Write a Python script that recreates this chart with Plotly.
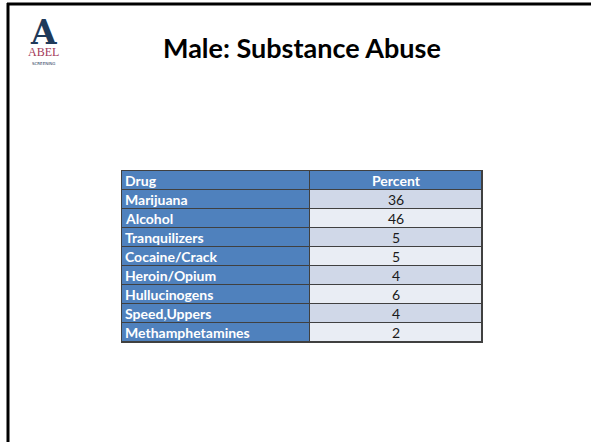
import plotly.graph_objects as go

W, H = 591, 442

title = "Male: Substance Abuse"
header = ["Drug", "Percent"]
drugs = ["Marijuana", "Alcohol", "Tranquilizers", "Cocaine/Crack", "Heroin/Opium",
         "Hullucinogens", "Speed,Uppers", "Methamphetamines"]
percents = [36, 46, 5, 5, 4, 6, 4, 2]

blue = "#4F81BD"
band1 = "#D0D8E8"
band2 = "#E9EDF4"
FONT = "Lato, Open Sans, sans-serif"

# table geometry (pixels in the page)
tx0, tx1 = 122, 482
ty0, ty1 = 171, 342
col_edges = [0, 188, 360]           # column widths 188 / 172
n_rows = len(drugs) + 1
row_edges = list(range(n_rows + 1))


def px(xp):
    """page pixel x -> paper x (paper = plot area)"""
    return (xp - tx0) / (tx1 - tx0)


def py(yp):
    """page pixel y -> paper y"""
    return (ty1 - yp) / (ty1 - ty0)


# colour class per cell: 0 = blue, 1 = dark band, 2 = light band
z = [[0, 0]] + [[0, 1 if i % 2 == 0 else 2] for i in range(len(drugs))]

fig = go.Figure(go.Heatmap(
    x=col_edges, y=row_edges, z=z,
    zmin=0, zmax=2,
    colorscale=[[0, blue], [0.333, blue], [0.333, band1], [0.667, band1],
                [0.667, band2], [1, band2]],
    showscale=False, xgap=1, ygap=1, hoverinfo="skip",
))

c_left = 1
c_mid = (col_edges[1] + col_edges[2]) / 2
FS = 14

# header text
fig.add_annotation(x=c_left, y=0.5, text=f"<b>{header[0]}</b>", showarrow=False,
                   xanchor="left", yanchor="middle",
                   font=dict(family=FONT, size=FS, color="white"))
fig.add_annotation(x=c_mid, y=0.5, text=f"<b>{header[1]}</b>", showarrow=False,
                   xanchor="center", yanchor="middle",
                   font=dict(family=FONT, size=FS, color="white"))
# body text
for i, (d, p) in enumerate(zip(drugs, percents)):
    fig.add_annotation(x=c_left, y=i + 1.5, text=f"<b>{d}</b>", showarrow=False,
                       xanchor="left", yanchor="middle",
                       font=dict(family=FONT, size=FS, color="white"))
    fig.add_annotation(x=c_mid, y=i + 1.5, text=str(p), showarrow=False,
                       xanchor="center", yanchor="middle",
                       font=dict(family=FONT, size=FS, color="#1a1a1a"))

# slide border
fig.add_shape(type="line", xref="paper", yref="paper",
              x0=px(7), x1=px(620), y0=py(4), y1=py(4),
              line=dict(color="black", width=3))
fig.add_shape(type="line", xref="paper", yref="paper",
              x0=px(8), x1=px(8), y0=py(3), y1=py(470),
              line=dict(color="black", width=3))

# title
fig.add_annotation(text=f"<b>{title}</b>", xref="paper", yref="paper",
                   x=px(302), y=py(47), showarrow=False,
                   xanchor="center", yanchor="middle",
                   font=dict(family=FONT, size=27, color="black"))

# logo
fig.add_annotation(text="<b>A</b>", xref="paper", yref="paper",
                   x=px(43), y=py(32), showarrow=False,
                   xanchor="center", yanchor="middle",
                   font=dict(family="DejaVu Serif, serif", size=33, color="#1f3a5a"))
fig.add_annotation(text="ABEL", xref="paper", yref="paper",
                   x=px(43), y=py(52), showarrow=False,
                   xanchor="center", yanchor="middle",
                   font=dict(family="Liberation Serif, serif", size=12, color="#a33a5a"))
fig.add_annotation(text="SCREENING", xref="paper", yref="paper",
                   x=px(43), y=py(63), showarrow=False,
                   xanchor="center", yanchor="middle",
                   font=dict(family="DejaVu Sans, sans-serif", size=4, color="#1f3a5a"))

fig.update_xaxes(range=[col_edges[0], col_edges[-1]], showgrid=False, zeroline=False,
                 showticklabels=False, ticks="", showline=True, mirror=True,
                 linecolor="#404040", linewidth=1, fixedrange=True)
fig.update_yaxes(range=[n_rows, 0], showgrid=False, zeroline=False,
                 showticklabels=False, ticks="", showline=True, mirror=True,
                 linecolor="#404040", linewidth=1, fixedrange=True)

fig.update_layout(
    width=W, height=H,
    margin=dict(l=tx0, r=W - tx1, t=ty0, b=H - ty1, pad=0),
    paper_bgcolor="white",
    plot_bgcolor="#404040",
    showlegend=False,
)

fig.write_html("out.html",
               config={"displayModeBar": False},
               post_script="document.body.style.margin='0';document.body.style.overflow='hidden';")
